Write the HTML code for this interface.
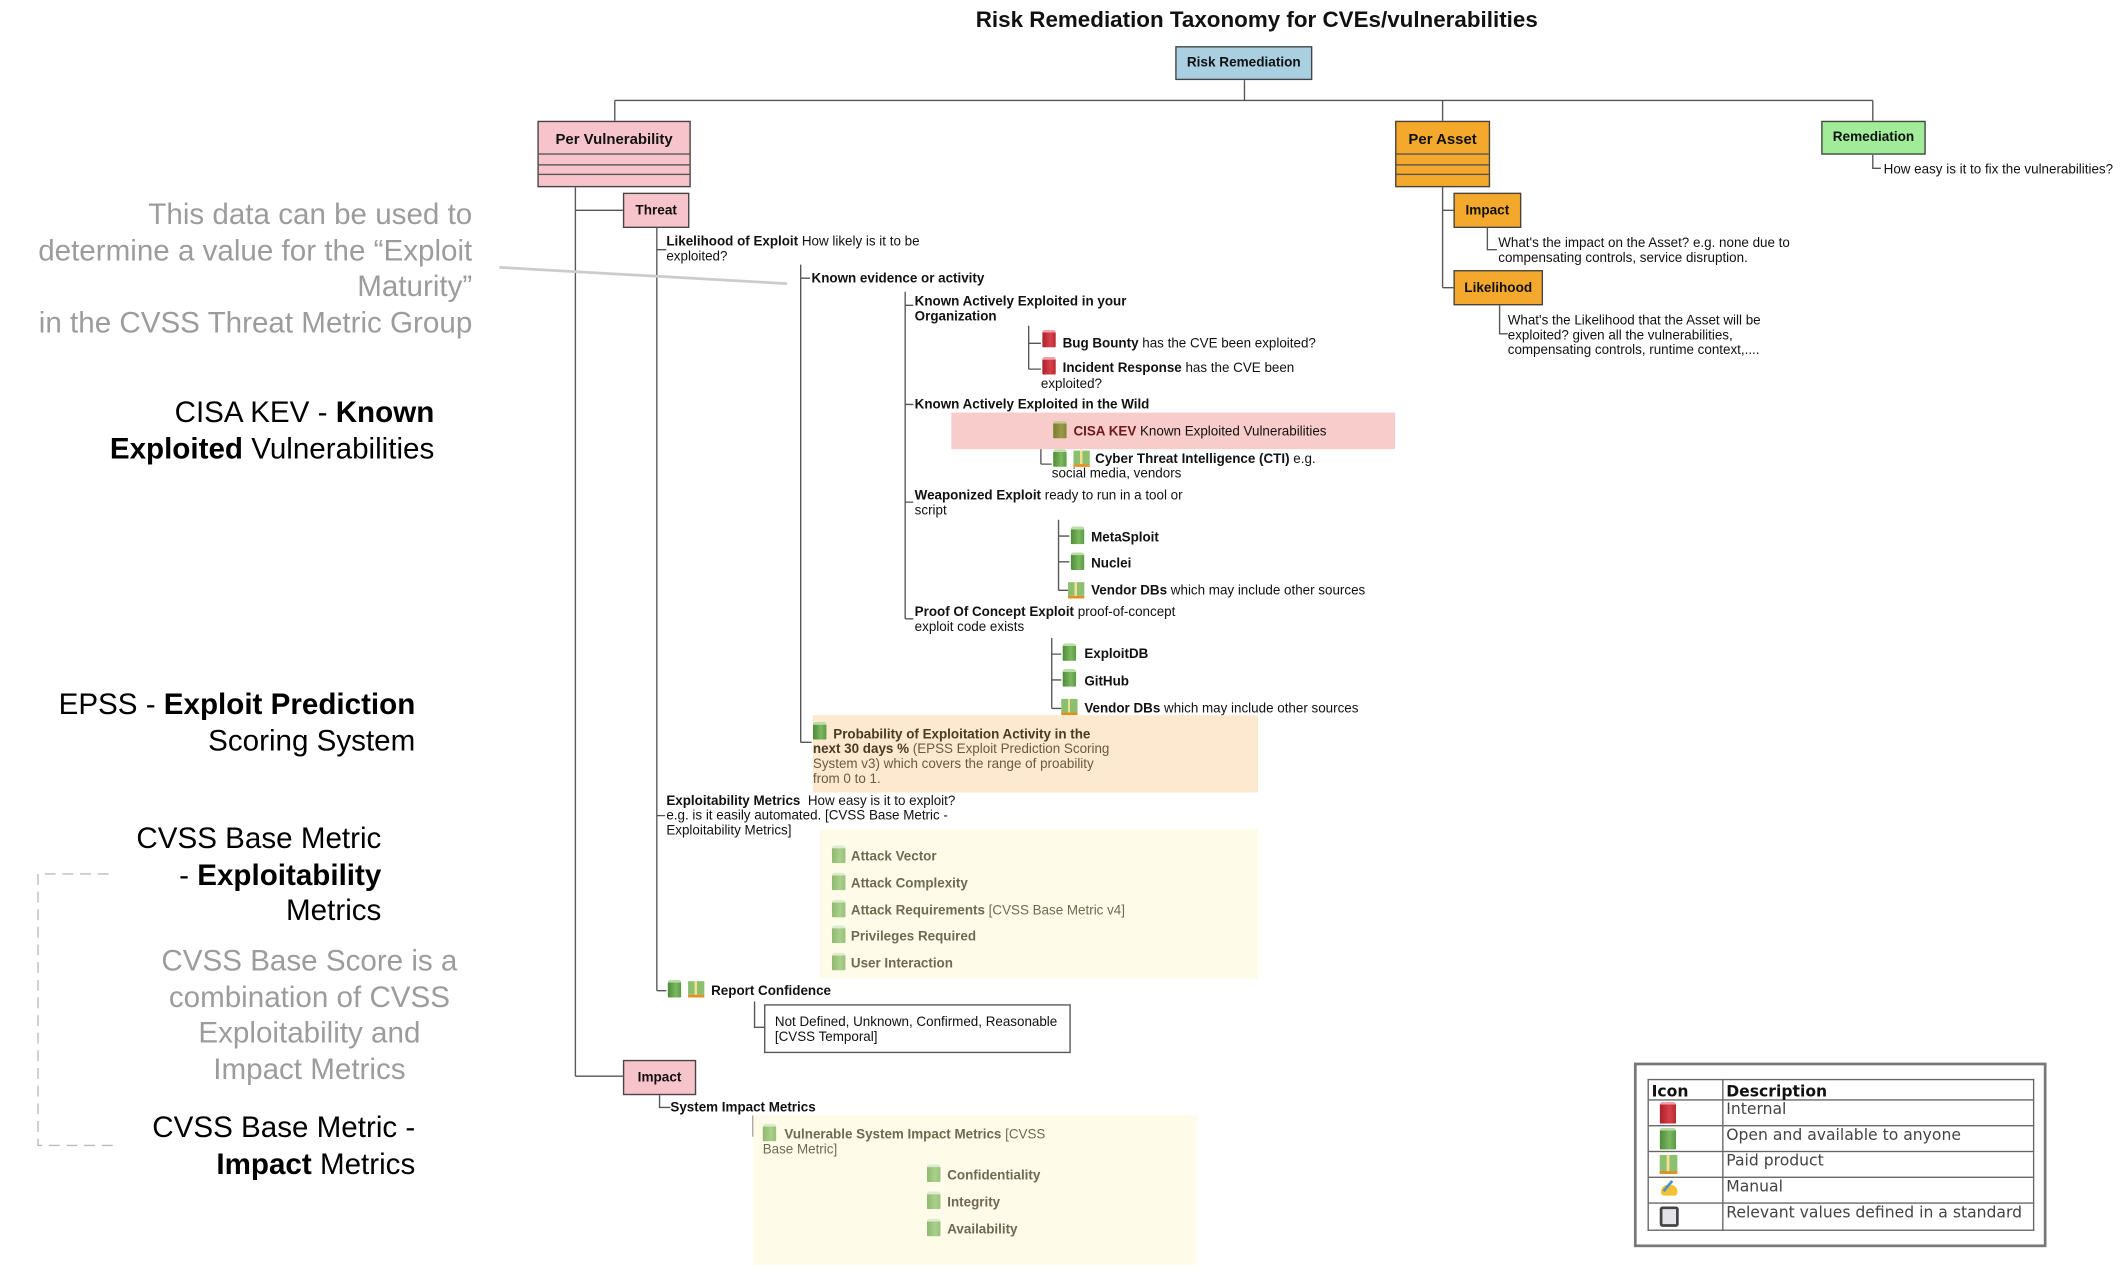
<!DOCTYPE html>
<html><head><meta charset="utf-8"><style>
html,body{margin:0;padding:0;background:#fff;overflow:hidden}
#w{position:absolute;left:0;top:0;width:1568px;height:946px;transform:scale(1.3571);transform-origin:0 0;font-family:"Liberation Sans",sans-serif;}
.t{position:absolute;font-size:9.9px;line-height:11px;color:#111;white-space:nowrap}
.t b{font-weight:bold}
.box{position:absolute;border:1px solid #444;box-sizing:border-box;font-weight:bold;font-size:10px;display:flex;align-items:center;justify-content:center;color:#111}
.ann{position:absolute;font-size:21.8px;line-height:26.5px;white-space:nowrap}
.g{color:#9c9c9c}
.hl{position:absolute}
.ic{position:absolute;width:10px;height:13px;border-radius:2px 2px 1px 1px;background:linear-gradient(90deg,#4e8a3a,#7cb85e 60%,#5a9a45);border-top:2px solid #b9dca8;box-sizing:border-box}
.ic.r{background:linear-gradient(90deg,#a8202a,#d8404a 60%,#b52a32);border-top-color:#f0a0a8}
.ic.o{background:linear-gradient(90deg,#7a7a30,#9a9a48 60%,#858538);border-top-color:#c8c890}
.ic.l{background:linear-gradient(90deg,#8fb870,#aad08a 60%,#98c07a);border-top-color:#dcecd0}
.pd{position:absolute;width:12px;height:12px;background:linear-gradient(90deg,#8cc070 0 40%,#f0e090 40% 55%,#8cc070 55%);border-bottom:2px solid #e09020;box-sizing:border-box}
.gr{color:#6e6a52}
</style></head><body><div id="w">
<svg width="1568" height="946" style="position:absolute;left:0;top:0" stroke="#555" stroke-width="1" fill="none">
<path d="M917 59V74M453 74H1380M453 74V89M1063 74V89M1380 74V89"/>
<path d="M1380 114V124H1386"/>
<path d="M424 138V793M424 155H459M424 793H459"/>
<path d="M484 168V730M484 184H491M484 601H490M484 730H491"/>
<path d="M590 195V547M590 205H597M590 547H598"/>
<path d="M667 215V456M667 225H673M667 298H673M667 370H673M667 456H673"/>
<path d="M758 240V272M758 253H767M758 272H767"/>
<path d="M767 305V342M767 318H775M767 342H775"/>
<path d="M780 383V435M780 395H788M780 414H788M780 435H788"/>
<path d="M775 470V522M775 482H782M775 501H782M775 522H782"/>
<path d="M607 620V713M607 631H613M607 650H613M607 670H613M607 690H613M607 713H613"/>
<path d="M556 738V757H563"/>
<path d="M486 807V816H494"/>
<path d="M555 822V837H562"/>
<path d="M675 852V908M675 866H683M675 886H683M675 908H683"/>
<path d="M1063 138V212M1063 155H1071M1063 212H1071"/>
<path d="M1096 168V184H1103M1105 225V246H1111"/>
<path d="M368 197L580 209" stroke="#ccc" stroke-width="2"/>
<path d="M80 644H28V844H88" stroke="#bbb" stroke-dasharray="8 5"/>
</svg>
<div class="t" style="left:719px;top:6px;font-size:16.5px;line-height:18px;font-weight:bold">Risk Remediation Taxonomy for CVEs/vulnerabilities</div>
<div class="box" style="left:866px;top:34px;width:101px;height:25px;background:#a9cfe0">Risk Remediation</div>

<div class="box" style="left:396px;top:89px;width:113px;height:49px;background:#f7c4cc;display:block">
<div style="height:23px;line-height:26px;text-align:center;border-bottom:1px solid #555;font-size:11px">Per Vulnerability</div>
<div style="height:7px;border-bottom:1px solid #555"></div><div style="height:6px;border-bottom:1px solid #555"></div></div>
<div class="box" style="left:1028px;top:89px;width:70px;height:49px;background:#f4a92c;display:block">
<div style="height:23px;line-height:26px;text-align:center;border-bottom:1px solid #555;font-size:11px">Per Asset</div>
<div style="height:7px;border-bottom:1px solid #555"></div><div style="height:6px;border-bottom:1px solid #555"></div></div>
<div class="box" style="left:1342px;top:89px;width:77px;height:25px;background:#a0ec98">Remediation</div>
<div class="t" style="left:1388px;top:120px">How easy is it to fix the vulnerabilities?</div>

<div class="box" style="left:1071px;top:142px;width:50px;height:26px;background:#f4a92c">Impact</div>
<div class="t" style="left:1104px;top:174px">What's the impact on the Asset? e.g. none due to<br>compensating controls, service disruption.</div>
<div class="box" style="left:1071px;top:199px;width:66px;height:26px;background:#f4a92c">Likelihood</div>
<div class="t" style="left:1111px;top:231px">What's the Likelihood that the Asset will be<br>exploited? given all the vulnerabilities,<br>compensating controls, runtime context,....</div>

<div class="box" style="left:459px;top:142px;width:49px;height:26px;background:#f7c4cc">Threat</div>
<div class="t" style="left:491px;top:173px"><b>Likelihood of Exploit</b> How likely is it to be<br>exploited?</div>
<div class="t" style="left:598px;top:200px"><b>Known evidence or activity</b></div>
<div class="t" style="left:674px;top:217px"><b>Known Actively Exploited in your<br>Organization</b></div>
<div class="ic r" style="left:768px;top:243px"></div>
<div class="t" style="left:783px;top:248px"><b>Bug Bounty</b> has the CVE been exploited?</div>
<div class="ic r" style="left:768px;top:263px"></div>
<div class="t" style="left:783px;top:266px"><b>Incident Response</b> has the CVE been</div>
<div class="t" style="left:767px;top:278px">exploited?</div>
<div class="t" style="left:674px;top:293px"><b>Known Actively Exploited in the Wild</b></div>
<div class="hl" style="left:701px;top:304px;width:327px;height:27px;background:#f9cccc"></div>
<div class="ic o" style="left:776px;top:310px"></div>
<div class="t" style="left:791px;top:313px"><b style="color:#6a1a1a">CISA KEV</b> Known Exploited Vulnerabilities</div>
<div class="ic" style="left:776px;top:331px"></div><div class="pd" style="left:791px;top:332px"></div>
<div class="t" style="left:807px;top:333px"><b>Cyber Threat Intelligence (CTI)</b> e.g.</div>
<div class="t" style="left:775px;top:344px">social media, vendors</div>
<div class="t" style="left:674px;top:360px"><b>Weaponized Exploit</b> ready to run in a tool or<br>script</div>
<div class="ic" style="left:789px;top:388px"></div><div class="t" style="left:804px;top:391px"><b>MetaSploit</b></div>
<div class="ic" style="left:789px;top:407px"></div><div class="t" style="left:804px;top:410px"><b>Nuclei</b></div>
<div class="pd" style="left:787px;top:429px"></div><div class="t" style="left:804px;top:430px"><b>Vendor DBs</b> which may include other sources</div>
<div class="t" style="left:674px;top:446px"><b>Proof Of Concept Exploit</b> proof-of-concept<br>exploit code exists</div>
<div class="ic" style="left:783px;top:474px"></div><div class="t" style="left:799px;top:477px"><b>ExploitDB</b></div>
<div class="ic" style="left:783px;top:493px"></div><div class="t" style="left:799px;top:497px"><b>GitHub</b></div>
<div class="pd" style="left:782px;top:515px"></div><div class="t" style="left:799px;top:517px"><b>Vendor DBs</b> which may include other sources</div>

<div class="hl" style="left:599px;top:527px;width:328px;height:57px;background:#fde9d0"></div>
<div class="ic" style="left:599px;top:532px"></div>
<div class="t" style="left:614px;top:536px;color:#4a3a20"><b>Probability of Exploitation Activity in the</b></div>
<div class="t" style="left:599px;top:547px;color:#6b5a40"><b style="color:#4a3a20">next 30 days %</b> (EPSS Exploit Prediction Scoring<br>System v3) which covers the range of proability<br>from 0 to 1.</div>

<div class="t" style="left:491px;top:585px"><b>Exploitability Metrics</b>&nbsp; How easy is it to exploit?<br>e.g. is it easily automated. [CVSS Base Metric -<br>Exploitability Metrics]</div>
<div class="hl" style="left:604px;top:611px;width:323px;height:110px;background:#fefbe8"></div>
<div class="ic l" style="left:613px;top:623px"></div><div class="t gr" style="left:627px;top:626px"><b>Attack Vector</b></div>
<div class="ic l" style="left:613px;top:643px"></div><div class="t gr" style="left:627px;top:646px"><b>Attack Complexity</b></div>
<div class="ic l" style="left:613px;top:663px"></div><div class="t gr" style="left:627px;top:666px"><b>Attack Requirements</b> [CVSS Base Metric v4]</div>
<div class="ic l" style="left:613px;top:682px"></div><div class="t gr" style="left:627px;top:685px"><b>Privileges Required</b></div>
<div class="ic l" style="left:613px;top:702px"></div><div class="t gr" style="left:627px;top:705px"><b>User Interaction</b></div>

<div class="ic" style="left:492px;top:722px"></div><div class="pd" style="left:507px;top:723px"></div>
<div class="t" style="left:524px;top:725px"><b>Report Confidence</b></div>
<div style="position:absolute;left:563px;top:740px;width:226px;height:36px;border:1px solid #555;box-sizing:border-box"></div>
<div class="t" style="left:571px;top:748px">Not Defined, Unknown, Confirmed, Reasonable<br>[CVSS Temporal]</div>

<div class="box" style="left:459px;top:781px;width:54px;height:26px;background:#f7c4cc">Impact</div>
<div class="t" style="left:494px;top:811px"><b>System Impact Metrics</b></div>
<div class="hl" style="left:555px;top:822px;width:327px;height:110px;background:#fefbe8"></div>
<div class="ic l" style="left:562px;top:828px"></div>
<div class="t gr" style="left:578px;top:831px"><b>Vulnerable System Impact Metrics</b> [CVSS</div>
<div class="t gr" style="left:562px;top:842px">Base Metric]</div>
<div class="ic l" style="left:683px;top:858px"></div><div class="t gr" style="left:698px;top:861px"><b>Confidentiality</b></div>
<div class="ic l" style="left:683px;top:878px"></div><div class="t gr" style="left:698px;top:881px"><b>Integrity</b></div>
<div class="ic l" style="left:683px;top:898px"></div><div class="t gr" style="left:698px;top:901px"><b>Availability</b></div>

<div class="ann g" style="right:1220px;top:145px;text-align:right">This data can be used to<br>determine a value for the “Exploit<br>Maturity”<br>in the CVSS Threat Metric Group</div>
<div class="ann" style="right:1248px;top:291px;text-align:right">CISA KEV - <b>Known</b><br><b>Exploited</b> Vulnerabilities</div>
<div class="ann" style="right:1262px;top:506px;text-align:right">EPSS - <b>Exploit Prediction</b><br>Scoring System</div>
<div class="ann" style="right:1287px;top:605px;text-align:right">CVSS Base Metric<br>- <b>Exploitability</b><br>Metrics</div>
<div class="ann g" style="left:88px;width:280px;top:695px;text-align:center">CVSS Base Score is a<br>combination of CVSS<br>Exploitability and<br>Impact Metrics</div>
<div class="ann" style="right:1262px;top:818px;text-align:right">CVSS Base Metric -<br><b>Impact</b> Metrics</div>

<div style="position:absolute;left:1204px;top:783px;width:304px;height:136px;border:2px solid #777;box-sizing:border-box"></div>
<table style="position:absolute;left:1214px;top:795px;width:285px;border-collapse:collapse;font-family:'DejaVu Sans',sans-serif;font-size:11.5px;color:#444">
<tr style="height:15px;font-weight:bold;color:#111"><td style="border:1.5px solid #666;width:50px;line-height:11px;padding:0 2px;vertical-align:bottom">Icon</td><td style="border:1.5px solid #666;line-height:11px;padding:0 2px;vertical-align:bottom">Description</td></tr>
<tr style="height:19px"><td style="border:1.5px solid #666;position:relative"><span class="ic r" style="left:8px;top:1px;width:12px;height:16px"></span></td><td style="border:1.5px solid #666;padding:0 2px;vertical-align:top;line-height:13px">Internal</td></tr>
<tr style="height:19px"><td style="border:1.5px solid #666;position:relative"><span class="ic" style="left:8px;top:1px;width:12px;height:16px"></span></td><td style="border:1.5px solid #666;padding:0 2px;vertical-align:top;line-height:13px">Open and available to anyone</td></tr>
<tr style="height:19px"><td style="border:1.5px solid #666;position:relative"><span class="pd" style="left:8px;top:2px;width:13px;height:14px"></span></td><td style="border:1.5px solid #666;padding:0 2px;vertical-align:top;line-height:13px">Paid product</td></tr>
<tr style="height:19px"><td style="border:1.5px solid #666;position:relative"><span style="position:absolute;left:9px;top:5px;width:12px;height:8px;background:#f2c230;border-radius:5px 5px 2px 2px"></span><span style="position:absolute;left:13px;top:1px;width:2px;height:10px;background:#4a90d0;transform:rotate(40deg)"></span></td><td style="border:1.5px solid #666;padding:0 2px;vertical-align:top;line-height:13px">Manual</td></tr>
<tr style="height:20px"><td style="border:1.5px solid #666;position:relative"><span style="position:absolute;left:8px;top:2px;width:14px;height:15px;border:2.5px solid #444;background:#e4e4e8;border-radius:2px;box-sizing:border-box"></span></td><td style="border:1.5px solid #666;padding:0 2px;vertical-align:top;line-height:13px">Relevant values defined in a standard</td></tr>
</table>
</div></body></html>
